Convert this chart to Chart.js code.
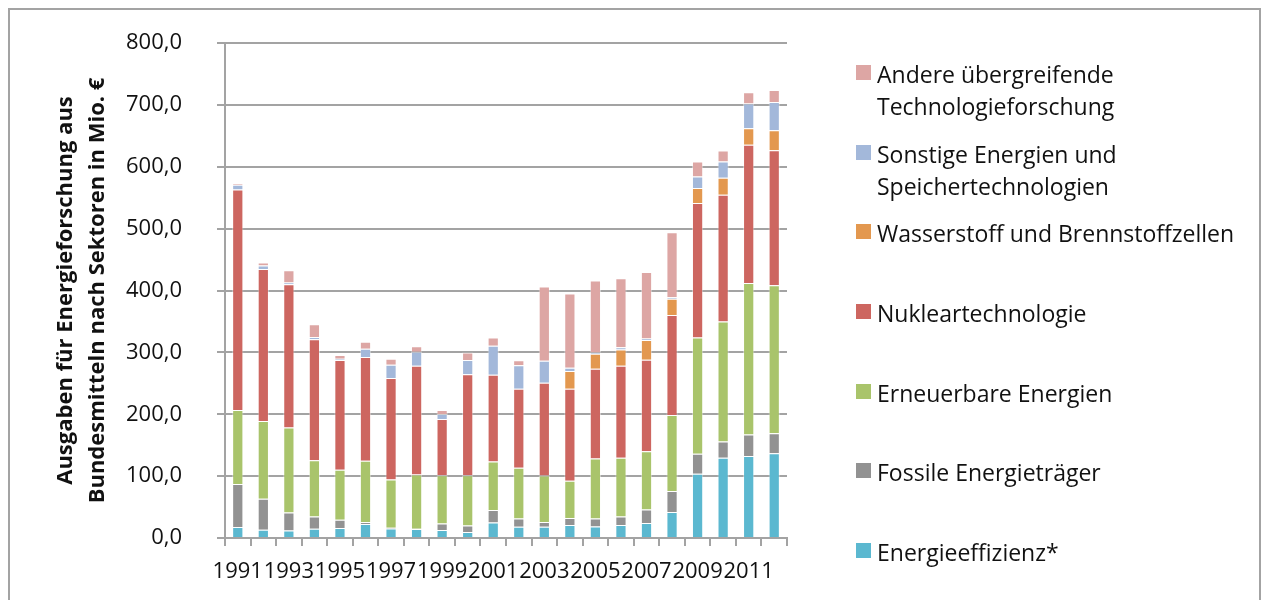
<!DOCTYPE html>
<html>
<head>
<meta charset="utf-8">
<script src="https://cdn.jsdelivr.net/npm/chart.js@4.4.0/dist/chart.umd.min.js"></script>
<style>
  body { margin: 0; background: #fff; font-family: "Open Sans", sans-serif; }
  #wrap { position: relative; width: 1264px; height: 600px; overflow: hidden; }
  #rahmen { position: absolute; left: 8px; top: 8px; width: 1253px; height: 700px; border: 2px solid #a3a3a3; box-sizing: border-box; }
  canvas { position: absolute; left: 0; top: 0; }
  .leg { position: absolute; left: 856px; font-size: 23px; line-height: 32px; color: #111; }
  .leg span.box { position: absolute; left: 0; width: 15px; height: 15px; }
  .leg div.txt { position: absolute; left: 21px; white-space: nowrap; }
</style>
</head>
<body>
<div id="wrap">
  <div id="rahmen"></div>
  <canvas id="grafica" width="1264" height="600"></canvas>
  <div id="legende"></div>
</div>
<script>
//Daten
const jahre = ['1991','1992','1993','1994','1995','1996','1997','1998','1999','2000','2001',
               '2002','2003','2004','2005','2006','2007','2008','2009','2010','2011','2012'];

const effizienz   = [17.7, 13.4, 12.3, 15.0, 16.1, 22.6, 15.5, 14.5, 12.9, 9.7, 25.2, 18.2, 18.2, 21.0, 18.7, 21.0, 24.2, 41.9, 103.7, 129.5, 132.7, 137.1];
const fossil      = [69.4, 50.0, 29.0, 19.8, 13.4, 3.2, 1.0, 0.5, 10.6, 10.6, 20.0, 13.4, 7.6, 11.3, 12.9, 13.8, 21.9, 33.9, 32.3, 26.3, 34.4, 32.3];
const erneuerbar  = [119.8, 125.8, 137.1, 91.0, 80.7, 98.9, 78.0, 87.6, 78.1, 81.3, 78.3, 81.8, 75.2, 60.1, 96.8, 94.7, 94.2, 123.1, 188.2, 194.2, 245.2, 239.1];
const nuklear     = [356.5, 245.7, 231.8, 195.6, 177.4, 167.7, 164.0, 175.8, 90.8, 162.9, 140.4, 127.9, 150.0, 148.9, 145.1, 148.9, 147.8, 161.7, 217.1, 204.8, 223.2, 218.3];
const wasserstoff = [0, 0, 0, 0, 0, 0, 0, 0, 0, 0, 0, 0, 0, 28.5, 24.2, 26.4, 31.7, 25.9, 24.2, 27.5, 26.8, 32.2];
const sonstige    = [7.6, 5.4, 2.7, 3.3, 2.1, 13.4, 21.5, 22.6, 8.1, 23.1, 46.7, 37.7, 35.5, 5.4, 2.3, 3.3, 2.8, 2.7, 18.9, 26.2, 39.8, 45.8];
const andere      = [2.0, 4.9, 19.8, 20.9, 5.9, 11.3, 9.7, 8.7, 6.4, 12.4, 13.6, 8.1, 119.9, 119.8, 116.1, 111.7, 107.4, 104.8, 24.1, 17.8, 18.2, 19.4];

const yTicks = [0, 100, 200, 300, 400, 500, 600, 700, 800];

// Serien von unten nach oben
const serien = [
  { label: 'Energieeffizienz*', data: effizienz, color: '#5bb8d0', top: 543 },
  { label: 'Fossile Energieträger', data: fossil, color: '#929292', top: 463 },
  { label: 'Erneuerbare Energien', data: erneuerbar, color: '#a9c46b', top: 384 },
  { label: 'Nukleartechnologie', data: nuklear, color: '#cd6660', top: 304 },
  { label: 'Wasserstoff und Brennstoffzellen', data: wasserstoff, color: '#e3984f', top: 224 },
  { label: ['Sonstige Energien und', 'Speichertechnologien'], data: sonstige, color: '#a3b8da', top: 145 },
  { label: ['Andere übergreifende', 'Technologieforschung'], data: andere, color: '#dda6a4', top: 65 }
];

const grau = '#a3a3a3';

const grafica = document.getElementById('grafica');

let grafica_OBJ = new Chart(grafica, {
  type: 'bar',
  data: {
    labels: jahre,
    datasets: serien.map(s => ({
      label: Array.isArray(s.label) ? s.label.join(' ') : s.label,
      data: s.data,
      backgroundColor: s.color,
      borderColor: 'rgba(255,255,255,0.45)',
      borderWidth: 1,
      barPercentage: 0.44,
      categoryPercentage: 1.0
    }))
  },
  options: {
    responsive: false,
    animation: false,
    layout: { padding: { left: 30, right: 477, top: 43, bottom: 0 } },
    plugins: {
      legend: { display: false },
      tooltip: { enabled: false }
    },
    scales: {
      x: {
        stacked: true,
        afterFit: function (scale) { scale.height = 62; },
        border: { color: grau, width: 2 },
        grid: { offset: true, drawOnChartArea: false, drawTicks: true, tickLength: 8, color: grau, lineWidth: 2 },
        ticks: {
          autoSkip: false,
          maxRotation: 0,
          minRotation: 0,
          padding: 13,
          color: '#111',
          font: { family: 'Open Sans', size: 22 },
          callback: function (val, i) { return i % 2 === 0 ? jahre[i] : ''; }
        }
      },
      y: {
        stacked: true,
        min: 0,
        max: 800,
        afterFit: function (scale) {
          scale.width = 195;
          scale.paddingTop = 0;
          scale.paddingBottom = 0;
        },
        afterBuildTicks: function (scale) { scale.ticks = yTicks.map(v => ({ value: v })); },
        border: { color: grau, width: 2 },
        grid: { color: grau, lineWidth: 2, tickLength: 8 },
        ticks: {
          padding: 35,
          color: '#111',
          font: { family: 'Open Sans', size: 22 },
          callback: function (v) { return v.toFixed(1).replace('.', ','); }
        },
        title: {
          display: true,
          text: ['Ausgaben für Energieforschung aus', 'Bundesmitteln nach Sektoren in Mio. €'],
          color: '#111',
          font: { family: 'Open Sans', size: 22, weight: 'bold', lineHeight: 1.45 },
          padding: { top: 20, bottom: 0 }
        }
      }
    }
  }
});

// Legende rechts (umgekehrte Reihenfolge)
const legende = document.getElementById('legende');
serien.slice().reverse().forEach(s => {
  const zeilen = Array.isArray(s.label) ? s.label : [s.label];
  const el = document.createElement('div');
  el.className = 'leg';
  el.style.top = s.top + 'px';
  el.innerHTML = '<span class="box" style="background:' + s.color + '"></span>' +
    '<div class="txt" style="top:-7px">' + zeilen.join('<br>') + '</div>';
  legende.appendChild(el);
});
</script>
</body>
</html>
